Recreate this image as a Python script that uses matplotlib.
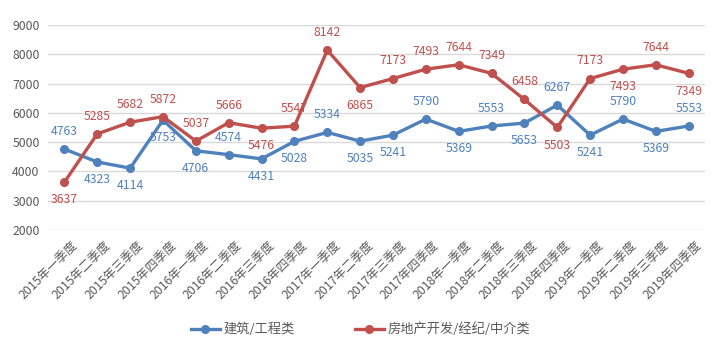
import matplotlib.pyplot as plt
import matplotlib.transforms as mtrans

plt.rcParams['font.family'] = ['Noto Sans CJK SC', 'DejaVu Sans']

quarters = ['2015年一季度', '2015年二季度', '2015年三季度', '2015年四季度',
            '2016年一季度', '2016年二季度', '2016年三季度', '2016年四季度',
            '2017年一季度', '2017年二季度', '2017年三季度', '2017年四季度',
            '2018年一季度', '2018年二季度', '2018年三季度', '2018年四季度',
            '2019年一季度', '2019年二季度', '2019年三季度', '2019年四季度']
build = [4763, 4323, 4114, 5753, 4706, 4574, 4431, 5028, 5334, 5035,
         5241, 5790, 5369, 5553, 5653, 6267, 5241, 5790, 5369, 5553]
estate = [3637, 5285, 5682, 5872, 5037, 5666, 5476, 5547, 8142, 6865,
          7173, 7493, 7644, 7349, 6458, 5503, 7173, 7493, 7644, 7349]
# label placement: 1 above, -1 below
build_pos = [1, -1, -1, -1, -1, 1, -1, -1, 1, -1, -1, 1, -1, 1, -1, 1, -1, 1, -1, 1]
estate_pos = [-1, 1, 1, 1, 1, 1, -1, 1, 1, -1, 1, 1, 1, 1, 1, -1, 1, -1, 1, -1]

blue = '#4F81BD'
red = '#C0504D'

fig = plt.figure(figsize=(7.21, 3.48), dpi=100)
ax = fig.add_axes([0.0666, 0.339, 0.9114, 0.589])

x = list(range(len(quarters)))
ax.plot(x, build, color=blue, lw=2.4, marker='o', ms=5.5, label='建筑/工程类', zorder=3)
ax.plot(x, estate, color=red, lw=2.4, marker='o', ms=5.5, label='房地产开发/经纪/中介类', zorder=3)

for xs, ys, ps, c in [(x, build, build_pos, blue), (x, estate, estate_pos, red)]:
    for xi, yi, p in zip(xs, ys, ps):
        ax.annotate(str(yi), (xi, yi), xytext=(0, 8 * p), textcoords='offset points',
                    ha='center', va='bottom' if p > 0 else 'top', fontsize=8.8, color=c)

ax.set_xlim(-0.5, 19.5)
ax.set_ylim(2000, 9000)
ax.set_yticks(range(2000, 9001, 1000))
ax.grid(axis='y', color='#D9D9D9', lw=1)
ax.set_axisbelow(True)
for s in ax.spines.values():
    s.set_visible(False)
ax.tick_params(length=0, colors='#595959', labelsize=8.8)
ax.tick_params(axis='y', pad=6)
ax.set_xticks(x)
ax.set_xticklabels(quarters, rotation=45, ha='right', rotation_mode='anchor', fontsize=8.8)
shift = mtrans.ScaledTranslation(7 / 100, -4 / 100, fig.dpi_scale_trans)
for lab in ax.get_xticklabels():
    lab.set_transform(lab.get_transform() + shift)

fig.legend(loc='lower center', bbox_to_anchor=(0.5, 0.0), ncol=2, frameon=False,
           fontsize=9.5, labelcolor='#595959', handlelength=2.2, handletextpad=0.3,
           columnspacing=4.5)

fig.savefig('out.png', dpi=100)
